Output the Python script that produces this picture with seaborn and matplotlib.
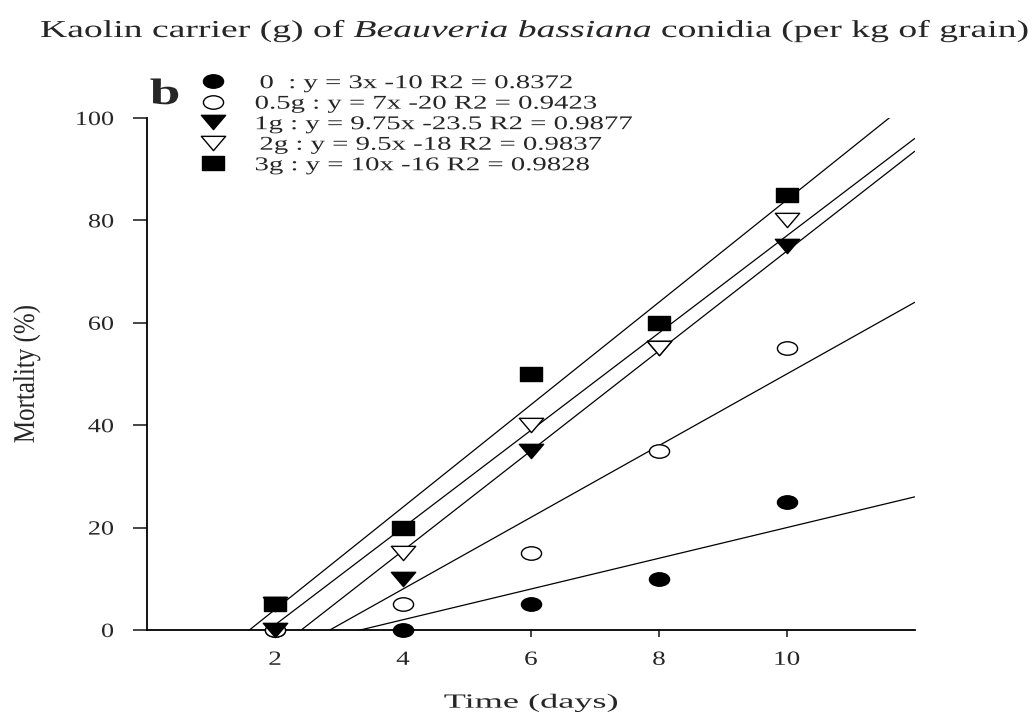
import numpy as np
import pandas as pd
import seaborn as sns
import matplotlib.pyplot as plt
from matplotlib.lines import Line2D
from matplotlib.path import Path
from matplotlib.patheffects import AbstractPathEffect
from matplotlib.transforms import Affine2D

sns.set_style("ticks")

# Mortality (%) of insects over time for each kaolin carrier dose
days = [2, 4, 6, 8, 10]
dose_0 = [0, 0, 5, 10, 25]
dose_05 = [0, 5, 15, 35, 55]
dose_1 = [0, 10, 35, 55, 75]
dose_2 = [5, 15, 40, 55, 80]
dose_3 = [5, 20, 50, 60, 85]

groups = ["0", "0.5g", "1g", "2g", "3g"]
labels = [" 0  : y = 3x -10 R2 = 0.8372",
          "0.5g : y = 7x -20 R2 = 0.9423",
          "1g : y = 9.75x -23.5 R2 = 0.9877",
          " 2g : y = 9.5x -18 R2 = 0.9837",
          "3g : y = 10x -16 R2 = 0.9828"]
x_ticks = [2, 4, 6, 8, 10]
y_ticks = [0, 20, 40, 60, 80, 100]

series = [dose_0, dose_05, dose_1, dose_2, dose_3]
df = pd.DataFrame({
    "days": days * len(groups),
    "mortality": sum(series, []),
    "group": np.repeat(groups, len(days)),
})


class HStretch(AbstractPathEffect):
    """Widen glyphs horizontally about an anchor (left/right/center or a pixel x)."""

    def __init__(self, factor, anchor="left"):
        super().__init__()
        self.factor = factor
        self.anchor = anchor

    def draw_path(self, renderer, gc, tpath, affine, rgbFace=None):
        if isinstance(self.anchor, (int, float)):
            cx = self.anchor
        else:
            ext = tpath.get_extents(affine)
            cx = {"left": ext.x0, "right": ext.x1}.get(self.anchor,
                                                       0.5 * (ext.x0 + ext.x1))
        aff = affine + Affine2D().translate(-cx, 0).scale(self.factor, 1.0).translate(cx, 0)
        renderer.draw_path(gc, tpath, aff, rgbFace)


def wide_path(verts):
    verts = np.asarray(verts, float)
    codes = [Path.MOVETO] + [Path.LINETO] * (len(verts) - 2) + [Path.CLOSEPOLY]
    return Path(verts, codes)


circ = Path.unit_circle()
ellipse = Path(circ.vertices * np.array([0.75, 0.5]), circ.codes)
tri_down = wide_path([(-0.85, 0.5), (0.85, 0.5), (0.0, -0.5), (-0.85, 0.5)])
rect = wide_path([(-0.75, -0.5), (0.75, -0.5), (0.75, 0.5), (-0.75, 0.5), (-0.75, -0.5)])

styles = {
    "0":    dict(marker=ellipse, facecolor="black", s=14.5 ** 2),
    "0.5g": dict(marker=ellipse, facecolor="white", s=14.5 ** 2),
    "1g":   dict(marker=tri_down, facecolor="black", s=17.5 ** 2),
    "2g":   dict(marker=tri_down, facecolor="white", s=17.5 ** 2),
    "3g":   dict(marker=rect, facecolor="black", s=15.5 ** 2),
}

serif = "Liberation Serif"

fig = plt.figure(figsize=(10.36, 7.18), dpi=100)
ax = fig.add_axes([0.142, 0.1226, 0.741, 0.7131])
ax.set_xlim(0, 12)
ax.set_ylim(0, 100)

# Least-squares trend lines across the full time axis
for g in groups:
    sub = df[df["group"] == g]
    sns.regplot(data=sub, x="days", y="mortality", ax=ax, scatter=False,
                ci=None, truncate=False,
                line_kws=dict(color="black", lw=0.9, zorder=2))

# Observed points
for g in groups:
    sub = df[df["group"] == g]
    st = styles[g]
    sns.scatterplot(data=sub, x="days", y="mortality", ax=ax,
                    marker=st["marker"], s=st["s"], color=st["facecolor"],
                    edgecolor="black", linewidth=1.0, zorder=3, clip_on=False,
                    legend=False)

ax.set_xlim(0, 12)
ax.set_ylim(0, 100)
ax.set_xticks(x_ticks)
ax.set_yticks(y_ticks)
ax.tick_params(axis="y", length=10, width=1.2, direction="out", pad=14,
               labelsize=14.5)
ax.tick_params(axis="x", length=5, width=1.2, direction="out", pad=10,
               labelsize=14.5)
for lab in ax.get_xticklabels():
    lab.set_fontfamily(serif)
    lab.set_path_effects([HStretch(1.35, "center")])
for lab in ax.get_yticklabels():
    lab.set_fontfamily(serif)
    lab.set_path_effects([HStretch(1.3, "right")])
sns.despine(ax=ax)
for sp in ("left", "bottom"):
    ax.spines[sp].set_linewidth(1.3)
    ax.spines[sp].set_color("black")

xl = ax.set_xlabel("Time (days)", family=serif, fontsize=14.5, va="top")
ax.xaxis.set_label_coords(0.5, -0.123)
xl.set_path_effects([HStretch(1.8, "center")])

yl = ax.set_ylabel("Mortality (%)", family=serif, fontsize=18)
ax.yaxis.set_label_coords(-0.142, 0.5)
yl.set_path_effects([HStretch(1.2, "center")])

handles = []
for g in groups:
    st = styles[g]
    handles.append(Line2D([], [], ls="none", marker=st["marker"],
                          markersize=np.sqrt(st["s"]),
                          markerfacecolor=st["facecolor"],
                          markeredgecolor="black", markeredgewidth=1.0))
leg = ax.legend(handles, labels, loc="upper left",
                bbox_to_anchor=(201.5 / 1036, 1 - 74.5 / 718),
                bbox_transform=fig.transFigure, frameon=False,
                prop=dict(family=serif, size=14),
                handlelength=1.2, handletextpad=1.55, labelspacing=0.15,
                borderaxespad=0, borderpad=0)
for t in leg.get_texts():
    t.set_path_effects([HStretch(1.48, "left")])

b = fig.text(150 / 1036, 1 - 104 / 718, "b", family=serif, fontweight="bold",
             fontsize=26.5, va="baseline")
b.set_path_effects([HStretch(1.5, "left")])

# Title with the species name in italics
title_parts = [("Kaolin carrier (g) of ", "normal"),
               ("Beauveria bassiana", "italic"),
               (" conidia (per kg of grain)", "normal")]
renderer = fig.canvas.get_renderer()
x_left = 40.0
x0 = x_left
for txt, style in title_parts:
    t = fig.text(x0 / 1036, 1 - 37 / 718, txt, family=serif, fontsize=17.5,
                 style=style, va="baseline")
    t.set_path_effects([HStretch(1.55, x_left)])
    x0 += t.get_window_extent(renderer=renderer).width

fig.savefig("out.png", dpi=100)
